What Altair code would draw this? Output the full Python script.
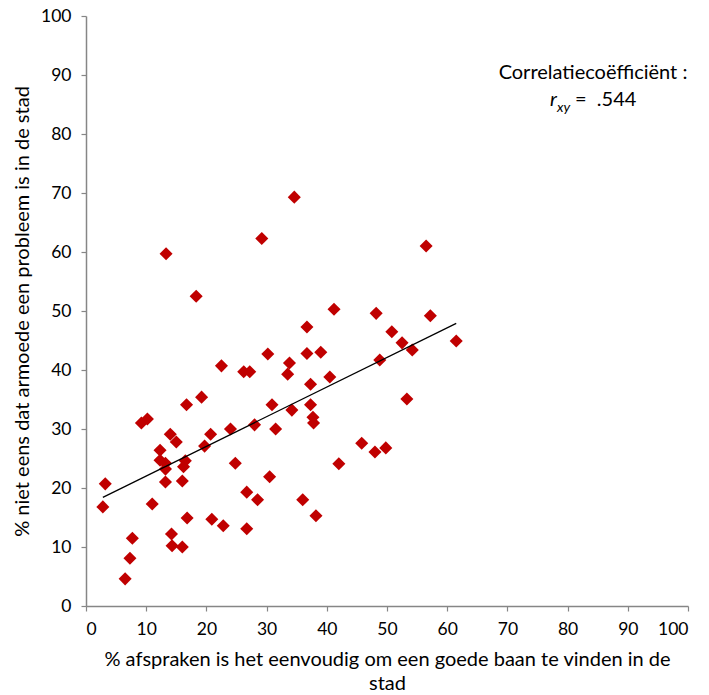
import altair as alt
import pandas as pd

# % afspraken is het eenvoudig om een goede baan te vinden in de stad
x_vals = [2.8, 3.2, 6.5, 7.3, 7.7, 9.2, 10.2, 11.0, 12.3, 12.3, 13.2, 13.2, 13.2, 13.3,
          14.0, 15.0, 14.2, 14.3, 16.0, 16.0, 16.2, 16.5, 16.7, 16.8, 18.3, 19.2, 19.7,
          20.7, 20.9, 22.5, 22.8, 24.0, 24.8, 26.2, 27.2, 26.7, 26.7, 28.0, 28.5, 29.2,
          30.2, 30.9, 30.5, 31.5, 33.5, 33.8, 34.2, 34.6, 36.0, 36.7, 36.7, 37.3, 37.3,
          37.7, 37.8, 38.2, 39.0, 40.5, 41.2, 42.0, 45.8, 48.0, 48.2, 48.8, 49.8, 50.8,
          52.5, 53.3, 54.2, 56.5, 57.2, 61.5]
# % niet eens dat armoede een probleem is in de stad
y_vals = [16.8, 20.7, 4.6, 8.1, 11.5, 31.0, 31.7, 17.3, 26.4, 24.7, 24.2, 23.2, 21.0, 59.7,
          29.1, 27.8, 12.2, 10.2, 10.0, 21.2, 23.6, 24.6, 34.1, 14.9, 52.5, 35.4, 27.1,
          29.1, 14.7, 40.7, 13.6, 30.0, 24.2, 39.7, 39.7, 19.3, 13.1, 30.7, 18.0, 62.3,
          42.7, 34.1, 21.9, 30.0, 39.3, 41.2, 33.2, 69.3, 18.0, 47.3, 42.8, 37.6, 34.1,
          32.0, 31.0, 15.3, 43.0, 38.8, 50.3, 24.1, 27.6, 26.1, 49.6, 41.7, 26.8, 46.5,
          44.6, 35.1, 43.4, 61.0, 49.2, 44.9]

tick_values = [0, 10, 20, 30, 40, 50, 60, 70, 80, 90, 100]
x_title = ["% afspraken is het eenvoudig om een goede baan te vinden in de", "stad"]
y_title = "% niet eens dat armoede een probleem is in de stad"
annot_line1 = ["Correlatiecoëfficiënt :"]
annot_r = ["r"]
annot_sub = ["xy"]
annot_val = ["=\u00a0\u00a0.544"]

FONT = "Lato"

df = pd.DataFrame({"x": x_vals, "y": y_vals})

xscale = alt.Scale(domain=[0, 100], nice=False, zero=True)
yscale = alt.Scale(domain=[0, 100], nice=False, zero=True)

axis_common = dict(
    values=tick_values, grid=False, domainColor="#868686", domainWidth=1.5,
    tickColor="#868686", tickSize=5, tickWidth=1.2, labelFont=FONT, labelFontSize=17.5,
    labelColor="#000000", titleFont=FONT, titleFontSize=20, titleFontWeight="normal",
    titleColor="#000000",
)

base = alt.Chart(df)

points = base.mark_point(shape="diamond", filled=True, size=170, color="#C00000", opacity=1).encode(
    x=alt.X("x:Q", scale=xscale, axis=alt.Axis(title=x_title, titlePadding=12, labelPadding=9,
                                               titleLineHeight=24, **axis_common)),
    y=alt.Y("y:Q", scale=yscale, axis=alt.Axis(title=y_title, titlePadding=8, labelPadding=10,
                                               **axis_common)),
)

trend = base.transform_regression("x", "y").mark_line(color="black", strokeWidth=1.3).encode(
    x=alt.X("x:Q", scale=xscale), y=alt.Y("y:Q", scale=yscale)
)

t1 = alt.Chart(pd.DataFrame({"t": annot_line1})).mark_text(
    font=FONT, fontSize=20, align="center", baseline="alphabetic", color="black"
).encode(text="t:N", x=alt.value(507), y=alt.value(63))

t2 = alt.Chart(pd.DataFrame({"t": annot_r})).mark_text(
    font=FONT, fontSize=20, fontStyle="italic", align="left", baseline="alphabetic", color="black"
).encode(text="t:N", x=alt.value(464), y=alt.value(90))

t3 = alt.Chart(pd.DataFrame({"t": annot_sub})).mark_text(
    font=FONT, fontSize=14, fontStyle="italic", align="left", baseline="alphabetic", color="black"
).encode(text="t:N", x=alt.value(471), y=alt.value(96))

t4 = alt.Chart(pd.DataFrame({"t": annot_val})).mark_text(
    font=FONT, fontSize=20, align="left", baseline="alphabetic", color="black"
).encode(text="t:N", x=alt.value(489), y=alt.value(90))

chart = alt.layer(points, trend, t1, t2, t3, t4).properties(
    width=602, height=590,
    autosize=alt.AutoSizeParams(type="none"),
    padding={"left": 86, "top": 16, "right": 21, "bottom": 89},
    background="white",
).configure_view(stroke=None)

chart.save("out.html", embed_options={"renderer": "svg", "actions": False})
